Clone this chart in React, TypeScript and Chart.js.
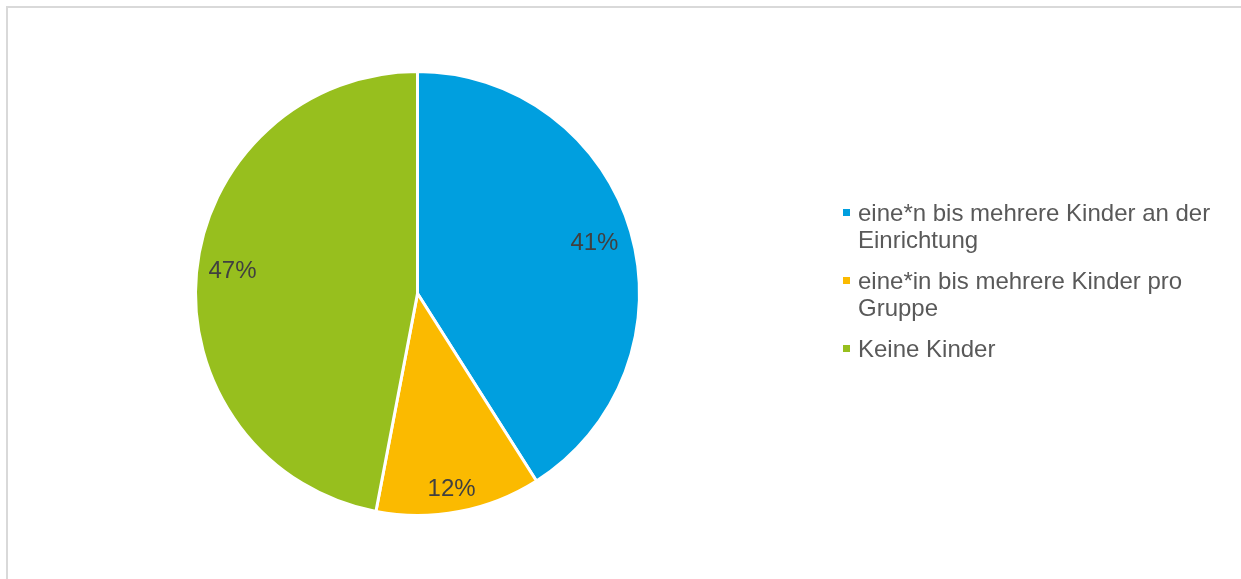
import React, { useEffect, useRef } from "react";
import { Chart, registerables } from "chart.js";

Chart.register(...registerables);

const categories: string[][] = [
  ["eine*n bis mehrere Kinder an der", "Einrichtung"],
  ["eine*in bis mehrere Kinder pro", "Gruppe"],
  ["Keine Kinder"],
];
const values: number[] = [41, 12, 47];
const valueLabels: string[] = ["41%", "12%", "47%"];
const colors: string[] = ["#009FDF", "#FBBA00", "#97BF1E"];

const FONT = '"Liberation Sans", Arial, sans-serif';

const labelPlugin = {
  id: "sliceLabels",
  afterDatasetsDraw(chart: any, _args: any, opts: any) {
    const ctx = chart.ctx;
    const meta = chart.getDatasetMeta(0);
    ctx.save();
    ctx.font = `24px ${FONT}`;
    ctx.fillStyle = "#404040";
    ctx.textAlign = "center";
    ctx.textBaseline = "middle";
    meta.data.forEach((arc: any, i: number) => {
      const { x, y, startAngle, endAngle, outerRadius } = arc.getProps(
        ["x", "y", "startAngle", "endAngle", "outerRadius"],
        true
      );
      const nudge = (opts.angleNudge && opts.angleNudge[i]) || 0;
      const mid = (startAngle + endAngle) / 2 + nudge;
      const f = (opts.radii && opts.radii[i]) || 0.84;
      const r = outerRadius * f;
      ctx.fillText(valueLabels[i], x + Math.cos(mid) * r, y + Math.sin(mid) * r + 1);
    });
    ctx.restore();
  },
};

const legendPlugin = {
  id: "sideLegend",
  afterDraw(chart: any) {
    const ctx = chart.ctx;
    ctx.save();
    ctx.font = `24px ${FONT}`;
    ctx.textBaseline = "middle";
    let y = 213;
    const lineH = 27;
    const gap = 14;
    categories.forEach((lines, i) => {
      ctx.fillStyle = colors[i];
      ctx.fillRect(843, y - 4, 7, 7);
      ctx.fillStyle = "#595959";
      lines.forEach((t, j) => {
        ctx.fillText(t, 858, y + j * lineH + 1);
      });
      y += lines.length * lineH + gap;
    });
    ctx.restore();
  },
};

export default function App() {
  const ref = useRef<HTMLCanvasElement | null>(null);
  useEffect(() => {
    if (!ref.current) return;
    const chart = new Chart(ref.current, {
      type: "pie",
      data: {
        labels: categories.map((c) => c.join(" ")),
        datasets: [
          {
            data: values,
            backgroundColor: colors,
            borderColor: "#ffffff",
            borderWidth: 3,
          },
        ],
      },
      options: {
        animation: false,
        responsive: false,
        maintainAspectRatio: false,
        layout: { padding: { left: 194, top: 70, right: 600, bottom: 62 } },
        plugins: {
          legend: { display: false },
          tooltip: { enabled: false },
          sliceLabels: { radii: [0.83, 0.89, 0.84], angleNudge: [0, 0.015, 0.03] },
        } as any,
      },
      plugins: [labelPlugin, legendPlugin],
    });
    return () => chart.destroy();
  }, []);
  return (
    <div style={{ position: "fixed", left: 0, top: 0, width: 1241, height: 579, background: "#fff", overflow: "hidden" }}>
      <div
        style={{
          position: "absolute",
          left: 6,
          top: 6,
          width: 1300,
          height: 700,
          borderLeft: "2px solid #d9d9d9",
          borderTop: "2px solid #d9d9d9",
        }}
      />
      <canvas ref={ref} width={1241} height={579} style={{ position: "absolute", left: 0, top: 0 }} />
    </div>
  );
}
